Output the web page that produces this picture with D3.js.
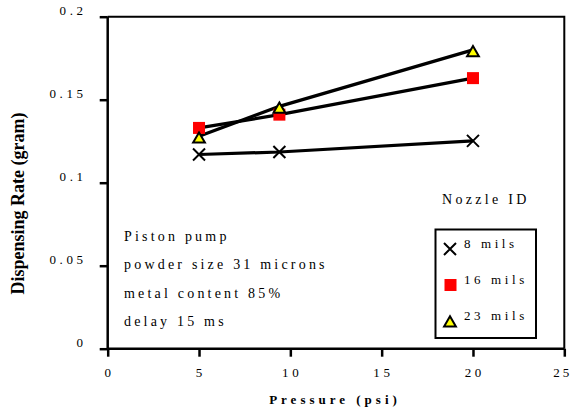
<!DOCTYPE html>
<html><head><meta charset="utf-8">
<script src="https://cdn.jsdelivr.net/npm/d3@7"></script>
<style>
body{margin:0;background:#fff;}
svg text{fill:#000;}
</style></head>
<body><svg id="c" width="571" height="417"></svg>
<script>
const pressure = [5, 9.4, 20];
const rate8 = [0.117, 0.1185, 0.1252];
const rate16 = [0.133, 0.141, 0.163];
const rate23 = [0.128, 0.146, 0.180];
const seriesNames = ["8 mils", "16 mils", "23 mils"];
const xTicks = [0, 5, 10, 15, 20, 25];
const yTicks = [0, 0.05, 0.1, 0.15, 0.2];
const yTickLabels = ["0", "0.05", "0.1", "0.15", "0.2"];
const notes = ["Piston pump", "powder size 31 microns", "metal content 85%", "delay 15 ms"];

const FONT = "'Liberation Serif','Times New Roman',serif";
const svg = d3.select("#c");
const L = 107.7, R = 564.3, T = 16.7, B = 348.7;
const x = d3.scaleLinear().domain([0, 25]).range([L, R]);
const y = d3.scaleLinear().domain([0, 0.2]).range([B, T]);

// frame
svg.append("path").attr("d", `M${L},${T}H${R}V${B}`).attr("fill","none").attr("stroke","#000").attr("stroke-width",2);

// axes
const xAxis = svg.append("g").attr("transform", `translate(0,${B})`)
  .call(d3.axisBottom(x).tickValues(xTicks).tickSize(8).tickFormat(""));
const yAxis = svg.append("g").attr("transform", `translate(${L},0)`)
  .call(d3.axisLeft(y).tickValues(yTicks).tickSize(8).tickFormat(""));
[xAxis, yAxis].forEach(g => {
  g.select(".domain").attr("stroke-width", 2.5);
  g.selectAll(".tick line").attr("stroke-width", 2.5);
});
xAxis.select(".domain").attr("d", `M${L},0H${R}`);
yAxis.select(".domain").attr("d", `M0,${B}V${T}`);

function txt(px, py, s, size, ls, anchor, weight) {
  return svg.append("text").attr("x", px).attr("y", py).attr("text-anchor", anchor || "start")
    .attr("font-size", size).attr("font-weight", weight || "normal")
    .attr("style", `font-family:${FONT};letter-spacing:${ls}px`).text(s);
}

// tick labels (letter-spaced)
const ls = 3.6;
xTicks.forEach(t => {
  const s = String(t);
  const dx = t === 25 ? -1.5 : ls/2;
  txt(x(t) + dx, 377, s, 13, t === 25 ? 3 : ls, "middle");
});
yTicks.forEach((t, i) => {
  txt(83 + ls, y(t) - 1.5, yTickLabels[i], 13, ls, "end");
});

// axis titles
txt(335, 404, "Pressure (psi)", 13, 4, "middle", "bold");
svg.append("text").attr("transform", "translate(24,203.5) rotate(-90)").attr("text-anchor","middle")
  .attr("font-size", 18).attr("font-weight","bold").attr("style", `font-family:${FONT}`)
  .text("Dispensing Rate (gram)");

// lines
const line = d3.line().x(d => x(d[0])).y(d => y(d[1]));
[rate8, rate16, rate23].forEach(vals => {
  svg.append("path").datum(pressure.map((p, i) => [p, vals[i]]))
    .attr("d", line).attr("fill","none").attr("stroke","#000").attr("stroke-width",3.2);
});

// markers
function drawX(g, cx, cy, s) {
  g.append("path").attr("d", `M${cx-s},${cy-s}L${cx+s},${cy+s}M${cx-s},${cy+s}L${cx+s},${cy-s}`)
    .attr("stroke","#000").attr("stroke-width",2).attr("fill","none");
}
function drawSq(g, cx, cy) {
  g.append("rect").attr("x", cx-6).attr("y", cy-6).attr("width",12).attr("height",12).attr("fill","#ff0000");
}
function drawTri(g, cx, cy) {
  g.append("path").attr("d", d3.symbol(d3.symbolTriangle, 60)()).attr("transform", `translate(${cx},${cy})`)
    .attr("fill","#ffff00").attr("stroke","#000").attr("stroke-width",2);
}
pressure.forEach((p, i) => drawX(svg, x(p), y(rate8[i]), 6));
pressure.forEach((p, i) => drawSq(svg, x(p), y(rate16[i])));
pressure.forEach((p, i) => drawTri(svg, x(p), y(rate23[i]) + 3));

// notes
notes.forEach((n, i) => txt(124, 241 + i*28.3, n, 14, 3.2));

// legend
txt(442, 204, "Nozzle ID", 14, 3.3);
svg.append("rect").attr("x", 435.5).attr("y", 229.5).attr("width", 100.5).attr("height", 108.5)
  .attr("fill","#fff").attr("stroke","#000").attr("stroke-width",2);
const legY = [249, 285, 321];
drawX(svg, 450, legY[0], 6);
drawSq(svg, 450.5, legY[1]);
drawTri(svg, 450, legY[2] + 2);
seriesNames.forEach((n, i) => txt(464, legY[i] - 1, n, 13, 3.6));
</script></body></html>
